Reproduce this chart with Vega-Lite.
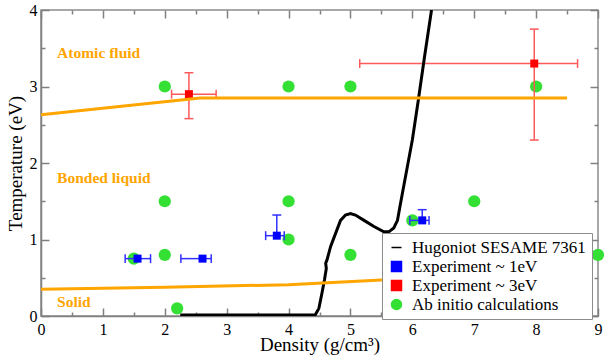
{
  "$schema": "https://vega.github.io/schema/vega-lite/v6.json",
  "width": 557,
  "height": 306,
  "autosize": {"type": "none"},
  "padding": {"left": 41, "top": 10, "right": 7, "bottom": 41},
  "background": "white",
  "config": {
    "font": "Times New Roman, Liberation Serif, DejaVu Serif, serif",
    "view": {"stroke": "#8c8c8c", "strokeWidth": 1.5},
    "text": {"font": "Times New Roman, Liberation Serif, DejaVu Serif, serif"},
    "axis": {
      "labelFont": "Times New Roman, Liberation Serif, DejaVu Serif, serif",
      "labelFontSize": 16,
      "labelColor": "#000",
      "titleFont": "Times New Roman, Liberation Serif, DejaVu Serif, serif",
      "titleFontSize": 19,
      "titleFontWeight": "normal",
      "titleColor": "#000",
      "domainColor": "#808080",
      "domainWidth": 1.5,
      "tickColor": "#808080",
      "tickWidth": 1.5,
      "grid": false
    },
    "legend": {
      "labelFont": "Times New Roman, Liberation Serif, DejaVu Serif, serif",
      "labelFontSize": 17,
      "labelColor": "#000",
      "labelLimit": 400
    }
  },
  "datasets": {
    "green": [
      {"series": "Ab initio calculations", "d": 2.0, "T": 3.0},
      {"series": "Ab initio calculations", "d": 4.0, "T": 3.0},
      {"series": "Ab initio calculations", "d": 5.0, "T": 3.0},
      {"series": "Ab initio calculations", "d": 8.0, "T": 3.0},
      {"series": "Ab initio calculations", "d": 2.0, "T": 1.5},
      {"series": "Ab initio calculations", "d": 4.0, "T": 1.5},
      {"series": "Ab initio calculations", "d": 7.0, "T": 1.5},
      {"series": "Ab initio calculations", "d": 2.0, "T": 0.8},
      {"series": "Ab initio calculations", "d": 4.0, "T": 1.0},
      {"series": "Ab initio calculations", "d": 1.5, "T": 0.75},
      {"series": "Ab initio calculations", "d": 5.0, "T": 0.8},
      {"series": "Ab initio calculations", "d": 6.0, "T": 1.25},
      {"series": "Ab initio calculations", "d": 9.0, "T": 0.8},
      {"series": "Ab initio calculations", "d": 2.2, "T": 0.1}
    ],
    "exp": [
      {"series": "Experiment ~ 1eV", "d": 1.56, "T": 0.75, "xlo": 1.36, "xhi": 1.77, "ylo": null, "yhi": null},
      {"series": "Experiment ~ 1eV", "d": 2.61, "T": 0.75, "xlo": 2.26, "xhi": 2.75, "ylo": null, "yhi": null},
      {"series": "Experiment ~ 1eV", "d": 3.81, "T": 1.05, "xlo": 3.63, "xhi": 3.93, "ylo": 1.05, "yhi": 1.32},
      {"series": "Experiment ~ 1eV", "d": 6.16, "T": 1.25, "xlo": 5.96, "xhi": 6.27, "ylo": 1.25, "yhi": 1.39},
      {"series": "Experiment ~ 3eV", "d": 2.39, "T": 2.9, "xlo": 2.11, "xhi": 2.83, "ylo": 2.58, "yhi": 3.18},
      {"series": "Experiment ~ 3eV", "d": 7.97, "T": 3.3, "xlo": 5.15, "xhi": 8.67, "ylo": 2.3, "yhi": 3.75}
    ],
    "hug": [
      {"series": "Hugoniot SESAME 7361", "i": 0, "d": 2.25, "T": 0.012},
      {"series": "Hugoniot SESAME 7361", "i": 1, "d": 3.0, "T": 0.012},
      {"series": "Hugoniot SESAME 7361", "i": 2, "d": 4.0, "T": 0.012},
      {"series": "Hugoniot SESAME 7361", "i": 3, "d": 4.43, "T": 0.012},
      {"series": "Hugoniot SESAME 7361", "i": 4, "d": 4.49, "T": 0.1},
      {"series": "Hugoniot SESAME 7361", "i": 5, "d": 4.54, "T": 0.3},
      {"series": "Hugoniot SESAME 7361", "i": 6, "d": 4.58, "T": 0.47},
      {"series": "Hugoniot SESAME 7361", "i": 7, "d": 4.61, "T": 0.62},
      {"series": "Hugoniot SESAME 7361", "i": 8, "d": 4.6, "T": 0.69},
      {"series": "Hugoniot SESAME 7361", "i": 9, "d": 4.62, "T": 0.73},
      {"series": "Hugoniot SESAME 7361", "i": 10, "d": 4.68, "T": 0.91},
      {"series": "Hugoniot SESAME 7361", "i": 11, "d": 4.76, "T": 1.08},
      {"series": "Hugoniot SESAME 7361", "i": 12, "d": 4.84, "T": 1.25},
      {"series": "Hugoniot SESAME 7361", "i": 13, "d": 4.92, "T": 1.32},
      {"series": "Hugoniot SESAME 7361", "i": 14, "d": 5.0, "T": 1.34},
      {"series": "Hugoniot SESAME 7361", "i": 15, "d": 5.08, "T": 1.32},
      {"series": "Hugoniot SESAME 7361", "i": 16, "d": 5.22, "T": 1.25},
      {"series": "Hugoniot SESAME 7361", "i": 17, "d": 5.38, "T": 1.17},
      {"series": "Hugoniot SESAME 7361", "i": 18, "d": 5.54, "T": 1.1},
      {"series": "Hugoniot SESAME 7361", "i": 19, "d": 5.62, "T": 1.1},
      {"series": "Hugoniot SESAME 7361", "i": 20, "d": 5.7, "T": 1.15},
      {"series": "Hugoniot SESAME 7361", "i": 21, "d": 5.76, "T": 1.25},
      {"series": "Hugoniot SESAME 7361", "i": 22, "d": 5.8, "T": 1.43},
      {"series": "Hugoniot SESAME 7361", "i": 23, "d": 5.85, "T": 1.65},
      {"series": "Hugoniot SESAME 7361", "i": 24, "d": 6.0, "T": 2.3},
      {"series": "Hugoniot SESAME 7361", "i": 25, "d": 6.1, "T": 2.84},
      {"series": "Hugoniot SESAME 7361", "i": 26, "d": 6.19, "T": 3.35},
      {"series": "Hugoniot SESAME 7361", "i": 27, "d": 6.31, "T": 4.0}
    ],
    "phase": [
      {"line": "upper", "i": 0, "d": 0.0, "T": 2.63},
      {"line": "upper", "i": 1, "d": 2.57, "T": 2.85},
      {"line": "upper", "i": 2, "d": 8.5, "T": 2.85},
      {"line": "lower", "i": 0, "d": 0.0, "T": 0.35},
      {"line": "lower", "i": 1, "d": 2.0, "T": 0.375},
      {"line": "lower", "i": 2, "d": 4.0, "T": 0.41},
      {"line": "lower", "i": 3, "d": 5.5, "T": 0.47},
      {"line": "lower", "i": 4, "d": 7.0, "T": 0.5},
      {"line": "lower", "i": 5, "d": 8.9, "T": 0.53}
    ],
    "labels": [
      {"label": "Atomic fluid", "d": 0.26, "T": 3.44},
      {"label": "Bonded liquid", "d": 0.26, "T": 1.8},
      {"label": "Solid", "d": 0.26, "T": 0.18}
    ]
  },
  "layer": [
    {
      "data": {"name": "green"},
      "mark": {"type": "point", "filled": true, "opacity": 1, "size": 150},
      "encoding": {
        "x": {"field": "d", "type": "quantitative", "scale": {"domain": [0, 9], "nice": false},
          "axis": {"orient": "bottom", "title": "Density (g/cm³)", "values": [0,0.5,1,1.5,2,2.5,3,3.5,4,4.5,5,5.5,6,6.5,7,7.5,8,8.5,9],
            "labelExpr": "datum.value % 1 === 0 ? format(datum.value, 'd') : ''",
            "tickSize": {"condition": {"test": "datum.value % 1 !== 0", "value": -4}, "value": -8},
            "labelPadding": 13, "titlePadding": -6, "labelFlush": false, "labelOverlap": false}},
        "y": {"field": "T", "type": "quantitative", "scale": {"domain": [0, 4], "nice": false},
          "axis": {"orient": "left", "title": "Temperature (eV)", "values": [0,0.5,1,1.5,2,2.5,3,3.5,4],
            "labelExpr": "datum.value % 1 === 0 ? format(datum.value, 'd') : ''",
            "tickSize": {"condition": {"test": "datum.value % 1 !== 0", "value": -4}, "value": -8},
            "labelPadding": 12, "titlePadding": 4, "labelFlush": false, "labelOverlap": false}},
        "color": {"field": "series", "type": "nominal",
          "scale": {"domain": ["Hugoniot SESAME 7361", "Experiment ~ 1eV", "Experiment ~ 3eV", "Ab initio calculations"],
            "range": ["#000000", "#0000ff", "#ff0000", "#33e033"]},
          "legend": {"title": null, "orient": "none", "legendX": 341, "legendY": 223,
            "padding": 6, "strokeColor": "#8c8c8c", "fillColor": "white", "rowPadding": 1, "labelOffset": 7, "labelLimit": 400,
            "encode": {"symbols": {"update": {
              "fill": {"scale": "color", "field": "value"},
              "stroke": {"scale": "color", "field": "value"},
              "strokeWidth": [{"test": "datum.value === 'Hugoniot SESAME 7361'", "value": 3}, {"value": 0}],
              "size": [{"test": "datum.value === 'Hugoniot SESAME 7361'", "value": 290}, {"test": "datum.value === 'Ab initio calculations'", "value": 140}, {"value": 60}],
              "shape": {"scale": "shape", "field": "value"},
              "opacity": {"value": 1}
            }}}}},
        "shape": {"field": "series", "type": "nominal",
          "scale": {"domain": ["Hugoniot SESAME 7361", "Experiment ~ 1eV", "Experiment ~ 3eV", "Ab initio calculations"],
            "range": ["stroke", "square", "square", "circle"]}}
      }
    },
    {
      "data": {"name": "exp"},
      "mark": {"type": "rule", "strokeWidth": 1.5},
      "encoding": {
        "x": {"field": "xlo", "type": "quantitative", "scale": {"domain": [0, 9], "nice": false}, "axis": null},
        "x2": {"field": "xhi"},
        "y": {"field": "T", "type": "quantitative", "scale": {"domain": [0, 4], "nice": false}, "axis": null},
        "stroke": {"field": "series", "type": "nominal", "scale": {"domain": ["Experiment ~ 1eV", "Experiment ~ 3eV"], "range": ["#3030ff", "#ff5a5a"]}, "legend": null}
      }
    },
    {
      "data": {"name": "exp"},
      "transform": [{"filter": "datum.yhi != null"}],
      "mark": {"type": "rule", "strokeWidth": 1.5},
      "encoding": {
        "x": {"field": "d", "type": "quantitative", "scale": {"domain": [0, 9], "nice": false}, "axis": null},
        "y": {"field": "ylo", "type": "quantitative", "scale": {"domain": [0, 4], "nice": false}, "axis": null},
        "y2": {"field": "yhi"},
        "stroke": {"field": "series", "type": "nominal", "scale": {"domain": ["Experiment ~ 1eV", "Experiment ~ 3eV"], "range": ["#3030ff", "#ff5a5a"]}, "legend": null}
      }
    },
    {
      "data": {"name": "exp"},
      "transform": [{"fold": ["xlo", "xhi"], "as": ["k", "xv"]}],
      "mark": {"type": "point", "filled": false, "shape": "M0,-1L0,1", "size": 80, "strokeWidth": 1.5, "opacity": 1},
      "encoding": {
        "x": {"field": "xv", "type": "quantitative", "scale": {"domain": [0, 9], "nice": false}, "axis": null},
        "y": {"field": "T", "type": "quantitative", "scale": {"domain": [0, 4], "nice": false}, "axis": null},
        "stroke": {"field": "series", "type": "nominal", "scale": {"domain": ["Experiment ~ 1eV", "Experiment ~ 3eV"], "range": ["#3030ff", "#ff5a5a"]}, "legend": null}
      }
    },
    {
      "data": {"name": "exp"},
      "transform": [{"fold": ["ylo", "yhi"], "as": ["k", "yv"]}, {"filter": "datum.yv != null && datum.yv != datum.T"}],
      "mark": {"type": "point", "filled": false, "shape": "M-1,0L1,0", "size": 80, "strokeWidth": 1.5, "opacity": 1},
      "encoding": {
        "x": {"field": "d", "type": "quantitative", "scale": {"domain": [0, 9], "nice": false}, "axis": null},
        "y": {"field": "yv", "type": "quantitative", "scale": {"domain": [0, 4], "nice": false}, "axis": null},
        "stroke": {"field": "series", "type": "nominal", "scale": {"domain": ["Experiment ~ 1eV", "Experiment ~ 3eV"], "range": ["#3030ff", "#ff5a5a"]}, "legend": null}
      }
    },
    {
      "data": {"name": "exp"},
      "mark": {"type": "point", "filled": true, "size": 64, "opacity": 1},
      "encoding": {
        "x": {"field": "d", "type": "quantitative", "scale": {"domain": [0, 9], "nice": false}, "axis": null},
        "y": {"field": "T", "type": "quantitative", "scale": {"domain": [0, 4], "nice": false}, "axis": null},
        "color": {"field": "series", "type": "nominal"},
        "shape": {"field": "series", "type": "nominal"}
      }
    },
    {
      "data": {"name": "hug"},
      "mark": {"type": "line", "strokeWidth": 3, "clip": true},
      "encoding": {
        "x": {"field": "d", "type": "quantitative", "scale": {"domain": [0, 9], "nice": false}, "axis": null},
        "y": {"field": "T", "type": "quantitative", "scale": {"domain": [0, 4], "nice": false}, "axis": null},
        "order": {"field": "i", "type": "quantitative"},
        "color": {"field": "series", "type": "nominal"}
      }
    },
    {
      "data": {"name": "phase"},
      "mark": {"type": "line", "strokeWidth": 3, "color": "#ffa500"},
      "encoding": {
        "x": {"field": "d", "type": "quantitative", "scale": {"domain": [0, 9], "nice": false},
          "axis": {"orient": "top", "title": null, "labels": false, "domain": false, "values": [0,0.5,1,1.5,2,2.5,3,3.5,4,4.5,5,5.5,6,6.5,7,7.5,8,8.5,9],
            "tickSize": {"condition": {"test": "datum.value % 1 !== 0", "value": -4}, "value": -8}}},
        "y": {"field": "T", "type": "quantitative", "scale": {"domain": [0, 4], "nice": false},
          "axis": {"orient": "right", "title": null, "labels": false, "domain": false, "values": [0,0.5,1,1.5,2,2.5,3,3.5,4],
            "tickSize": {"condition": {"test": "datum.value % 1 !== 0", "value": -4}, "value": -8}}},
        "detail": {"field": "line", "type": "nominal"},
        "order": {"field": "i", "type": "quantitative"}
      }
    },
    {
      "data": {"name": "labels"},
      "mark": {"type": "text", "align": "left", "baseline": "middle", "font": "Times New Roman, Liberation Serif, DejaVu Serif, serif", "fontSize": 15.5, "fontWeight": "bold", "color": "#ffa500"},
      "encoding": {
        "x": {"field": "d", "type": "quantitative", "scale": {"domain": [0, 9], "nice": false}, "axis": null},
        "y": {"field": "T", "type": "quantitative", "scale": {"domain": [0, 4], "nice": false}, "axis": null},
        "text": {"field": "label", "type": "nominal"}
      }
    }
  ],
  "resolve": {"axis": {"x": "independent", "y": "independent"}}
}
